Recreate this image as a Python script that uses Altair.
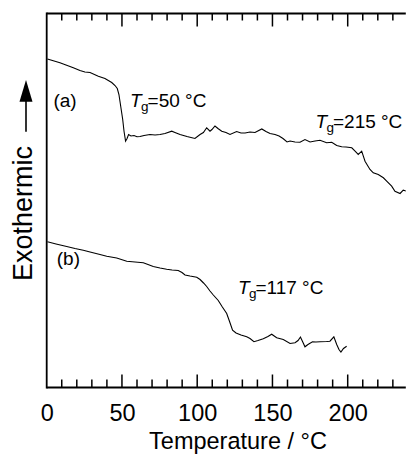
import altair as alt
import pandas as pd

# ---- data (temperature in °C, heat flow in arbitrary units) ----
temp_a = [0.5, 8.8, 12.8, 17.7, 22.1, 25.4, 28.8, 34.3, 38.7, 43.2, 45.4, 46.9, 48.0, 48.7,
          49.7, 50.5, 51.4, 52.4, 53.4, 54.4, 56.0, 58.0, 60.0, 62.0, 64.7, 68.6, 72.0, 75.3,
          78.6, 83.1, 85.2, 88.6, 93.2, 98.5, 101.9, 104.1, 106.3, 108.5, 109.8, 111.8, 113.8,
          116.3, 119.1, 121.8, 126.2, 129.1, 131.8, 135.1, 138.4, 142.9, 145.7, 148.4, 151.7,
          154.4, 157.0, 159.7, 161.7, 165.0, 168.3, 171.6, 175.0, 178.3, 181.6, 186.0, 189.4,
          192.7, 196.0, 198.9, 202.7, 204.9, 207.0, 209.3, 211.5, 214.8, 217.0, 220.3, 223.7,
          225.9, 229.2, 231.4, 234.8, 236.9, 239.2, 241.4, 243.6]
sig_a = [32.86, 32.47, 32.25, 31.97, 31.70, 31.55, 31.50, 31.13, 30.90, 30.50, 30.20, 29.90,
         29.30, 28.60, 27.60, 26.80, 25.60, 24.63, 24.90, 25.30, 25.15, 25.20, 25.07, 25.10,
         25.20, 25.30, 25.25, 25.30, 25.40, 25.63, 25.50, 25.30, 25.10, 24.90, 25.30, 25.50,
         25.97, 25.63, 25.80, 26.15, 25.90, 25.63, 25.50, 25.30, 25.60, 25.45, 25.45, 25.55,
         25.50, 25.85, 25.60, 25.40, 25.30, 25.15, 24.90, 24.55, 24.65, 24.55, 24.53, 24.80,
         24.55, 24.65, 24.73, 24.47, 24.53, 24.20, 24.07, 24.05, 23.97, 23.63, 23.30, 23.63,
         22.63, 21.80, 21.47, 21.30, 20.97, 20.63, 20.13, 19.63, 19.40, 19.73, 19.63, 18.97,
         18.73]

temp_b = [0.5, 6.2, 13.3, 18.8, 24.3, 28.8, 35.4, 39.9, 46.5, 53.2, 58.7, 64.2, 67.3, 70.8,
          75.3, 79.7, 83.3, 87.4, 89.9, 91.9, 95.2, 99.7, 101.9, 104.2, 106.3, 108.5, 110.7,
          114.0, 116.5, 119.6, 121.5, 123.5, 125.8, 129.1, 132.9, 135.1, 137.7, 140.4, 143.9,
          147.0, 149.5, 152.8, 157.2, 161.7, 165.0, 167.0, 168.6, 170.3, 171.6, 173.6, 176.6,
          178.9, 181.6, 186.0, 188.2, 190.8, 192.7, 194.2, 195.5, 197.2, 199.3]
sig_b = [14.57, 14.35, 14.10, 13.90, 13.73, 13.55, 13.30, 13.13, 12.95, 12.63, 12.55, 12.47,
         12.30, 12.10, 11.95, 11.82, 11.75, 11.70, 11.50, 11.25, 11.15, 11.03, 10.80, 10.45,
         10.10, 9.65, 9.25, 8.70, 8.10, 7.40, 6.60, 5.73, 5.45, 5.25, 5.07, 4.90, 4.58, 4.70,
         4.87, 5.10, 5.33, 4.97, 4.80, 4.40, 4.47, 4.70, 5.05, 4.50, 4.07, 4.30, 4.57, 4.55,
         4.58, 4.60, 4.63, 5.07, 4.30, 3.80, 3.55, 3.90, 4.13]

x_labels = [0, 50, 100, 150, 200]
major_ticks = [50, 100, 150, 200]
minor_ticks = [t for t in range(10, 240, 10) if t % 50 != 0]

curve_labels = ["(a)", "(b)"]
curve_label_x = [4.5, 6.7]
curve_label_y = [28.03, 12.2]

tg_x = [55.4, 178.6, 127.1]
tg_y = [28.05, 25.95, 9.3]
tg_rest = ["=50 °C", "=215 °C", "=117 °C"]

FONT = "Liberation Sans"
X_DOMAIN = [0, 238.6]
Y_DOMAIN = [0, 37.4]
W, H = 359.1, 374

# ---- tables ----
curves = pd.concat([
    pd.DataFrame({"T": temp_a, "v": sig_a, "curve": "a"}),
    pd.DataFrame({"T": temp_b, "v": sig_b, "curve": "b"}),
])
minor_df = pd.DataFrame({"T": minor_ticks})
major_df = pd.DataFrame({"T": major_ticks})
lab_df = pd.DataFrame({"T": curve_label_x, "v": curve_label_y, "txt": curve_labels})
tg_df = pd.DataFrame({"T": tg_x, "v": tg_y, "rest": tg_rest, "t": "T", "g": "g"})

xs = alt.Scale(domain=X_DOMAIN, nice=False, zero=False)
ys = alt.Scale(domain=Y_DOMAIN, nice=False, zero=False)

lines = alt.Chart(curves).mark_line(color="black", strokeWidth=1.1, clip=True).encode(
    x=alt.X("T:Q", scale=xs, axis=alt.Axis(
        values=x_labels, ticks=False, tickSize=0, domain=False, grid=False,
        labelFont=FONT, labelFontSize=23.5, labelColor="black", labelFlush=False,
        labelBaseline="alphabetic", labelPadding=33,
        title="Temperature / °C", titleFont=FONT, titleFontSize=23.5,
        titleFontWeight="normal", titleColor="black", titleX=190.8, titleY=61,
        titleBaseline="alphabetic", titleAlign="center")),
    y=alt.Y("v:Q", scale=ys, axis=alt.Axis(
        labels=False, ticks=False, tickSize=0, domain=False, grid=False,
        title="Exothermic", titleFont=FONT, titleFontSize=27, titleFontWeight="normal",
        titleColor="black", titleAngle=270, titleX=-15, titleY=199.5,
        titleAlign="center", titleBaseline="alphabetic")),
    detail="curve:N",
)

def tick_layer(df, y0, y1):
    return alt.Chart(df).mark_rule(color="black", strokeWidth=1.5).encode(
        x=alt.X("T:Q", scale=xs), y=alt.value(y0), y2=alt.value(y1))

ticks = [
    tick_layer(minor_df, 0, 7), tick_layer(major_df, 0, 13),
    tick_layer(minor_df, H, H - 8), tick_layer(major_df, H, H - 13),
]

one = pd.DataFrame({"k": [0]})
frame_left = alt.Chart(one).mark_rule(color="black", strokeWidth=1.8).encode(
    x=alt.value(0), y=alt.value(-0.9), y2=alt.value(H + 0.9))
frame_top = alt.Chart(one).mark_rule(color="black", strokeWidth=1.8).encode(
    x=alt.value(0), x2=alt.value(W), y=alt.value(0))
frame_bottom = alt.Chart(one).mark_rule(color="black", strokeWidth=1.8).encode(
    x=alt.value(0), x2=alt.value(W), y=alt.value(H))

labels = alt.Chart(lab_df).mark_text(font=FONT, fontSize=19, align="left",
                                     baseline="alphabetic", color="black").encode(
    x=alt.X("T:Q", scale=xs), y=alt.Y("v:Q", scale=ys), text="txt:N")

tg_T = alt.Chart(tg_df).mark_text(font=FONT, fontSize=19, fontStyle="italic", align="left",
                                  baseline="alphabetic", color="black").encode(
    x=alt.X("T:Q", scale=xs), y=alt.Y("v:Q", scale=ys), text="t:N")
tg_g = alt.Chart(tg_df).mark_text(font=FONT, fontSize=13.5, align="left", dx=11, dy=4,
                                  baseline="alphabetic", color="black").encode(
    x=alt.X("T:Q", scale=xs), y=alt.Y("v:Q", scale=ys), text="g:N")
tg_r = alt.Chart(tg_df).mark_text(font=FONT, fontSize=19, align="left", dx=17.5,
                                  baseline="alphabetic", color="black").encode(
    x=alt.X("T:Q", scale=xs), y=alt.Y("v:Q", scale=ys), text="rest:N")

arrow_line = alt.Chart(one).mark_rule(color="black", strokeWidth=1.6).encode(
    x=alt.value(-20.7), y=alt.value(87), y2=alt.value(118.2))
arrow_head = alt.Chart(one).mark_point(shape="M0,-1L0.6,1L-0.6,1Z", filled=True, size=471,
                                       color="black", opacity=1, strokeWidth=0).encode(
    x=alt.value(-20.7), y=alt.value(77.3))

chart = alt.layer(lines, *ticks, frame_left, frame_top, frame_bottom,
                  labels, tg_T, tg_g, tg_r, arrow_line, arrow_head).properties(
    width=W, height=H,
    background="white",
    autosize=alt.AutoSizeParams(type="none"),
    padding={"left": 38.7, "top": 5.5, "right": 0, "bottom": 68},
).configure_view(stroke="transparent", strokeWidth=0)

chart.save("out.html", embed_options={"renderer": "svg", "actions": False})
